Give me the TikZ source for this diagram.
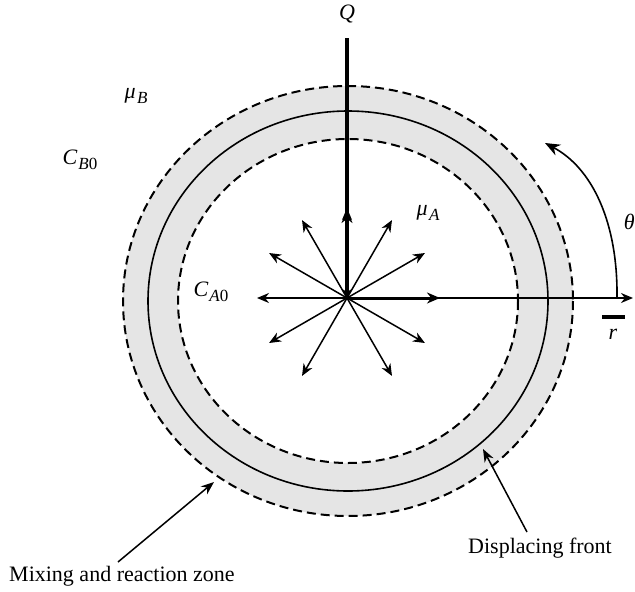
\documentclass[tikz,border=0pt]{standalone}
\usepackage{fontspec}
\setmainfont{Liberation Serif}
\usetikzlibrary{arrows.meta}
\newcommand{\subsc}[1]{\raisebox{-0.5ex}{\fontsize{17}{19}\selectfont #1}}
\begin{document}
\begin{tikzpicture}[x=1pt,y=-1pt,
  lbl/.style={inner sep=0pt, font=\fontsize{22}{26}\selectfont},
  txt/.style={inner sep=0pt, font=\fontsize{22}{25}\selectfont},
  spoke/.style={line width=1.5pt,-{Stealth[length=12pt,width=10pt]}},
  ptr/.style={line width=1.5pt,-{Stealth[length=13pt,width=10pt]}},
  zone/.style={line width=2pt, dash pattern=on 9pt off 5pt},
  front/.style={line width=1.6pt}
]
\useasboundingbox (0,0) rectangle (635,592);
\coordinate (C) at (348,301);
\coordinate (O) at (347,298);
% mixing zone
\fill[black!10, even odd rule] (C) ellipse [x radius=225, y radius=215] (C) ellipse [x radius=170, y radius=162];
\draw[zone] (C) ellipse [x radius=225, y radius=215];
\draw[zone] (C) ellipse [x radius=170, y radius=162];
\draw[front] (C) ellipse [x radius=200, y radius=190];
% spokes
\foreach \a in {30,60,120,150,180,210,240,270,300,330}{
  \path (O) ++(\a:90) coordinate (s\a);
  \draw[spoke] (O) -- (s\a);
}
% horizontal axis
\coordinate (xend) at (633,298);
\coordinate (xthick) at (440,298);
\draw[spoke] (O) -- (xend);
\draw[line width=3pt,-{Stealth[length=13pt,width=11pt]}] (O) -- (xthick);
% vertical Q line
\coordinate (qtop) at (347,38);
\coordinate (qup) at (347,210);
\draw[line width=3.5pt,-{Stealth[length=9pt,width=10pt]}] (qtop) -- (O);
\draw[line width=3.5pt,-{Stealth[length=13pt,width=11pt]}] (O) -- (qup);
% theta arc
\coordinate (th1) at (617,298);
\coordinate (th2) at (545,143);
\draw[line width=1.6pt,-{Stealth[length=15pt,width=12pt]}] (th1) .. controls (618,222) and (592,168) .. (th2);
% r bar
\coordinate (r1) at (602,317);
\coordinate (r2) at (625,317);
\draw[line width=3.5pt] (r1) -- (r2);
% labels
\node[lbl] (Q) at (347,14) {\textit{Q}};
\node[lbl, anchor=east] (theta) at (635,222) {\textit{θ}};
\node[lbl] (r) at (613,334) {\textit{r}};
\node[lbl] (muB) at (136,96) {\textit{μ}\kern1.5pt\subsc{\textit{B}}};
\node[lbl] (CB) at (80,160) {\textit{C}\kern1pt\subsc{\textit{B}0}};
\node[lbl] (CA) at (211,292) {\textit{C}\kern1pt\subsc{\textit{A}0}};
\node[lbl] (muA) at (428,213) {\textit{μ}\kern1.5pt\subsc{\textit{A}}};
\node[txt, anchor=west] (disp) at (468,548) {Displacing front};
\node[txt, anchor=west] (mix) at (9,576) {Mixing and reaction zone};
% pointers
\coordinate (mixtail) at (118,562);
\coordinate (mixtip) at (214,482);
\coordinate (disptail) at (527,532);
\coordinate (disptip) at (483,449);
\draw[ptr] (mixtail) -- (mixtip);
\draw[ptr] (disptail) -- (disptip);
\end{tikzpicture}
\end{document}
